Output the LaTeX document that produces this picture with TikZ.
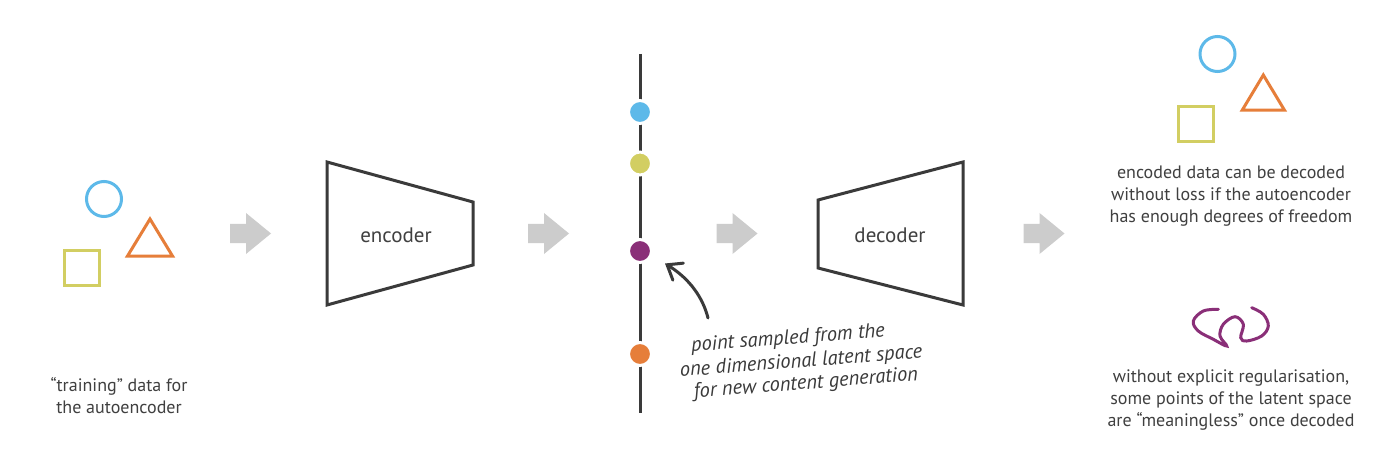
\documentclass[tikz,border=0pt]{standalone}
\usepackage{fontspec}
\setmainfont{PT Sans}
\usetikzlibrary{arrows.meta}
\definecolor{cblue}{HTML}{5DB9E9}
\definecolor{corange}{HTML}{E67E3A}
\definecolor{cyellow}{HTML}{D2CE62}
\definecolor{cpurple}{HTML}{8A2F78}
\definecolor{cgray}{HTML}{CCCCCC}
\definecolor{cdark}{HTML}{3A3A3A}
\definecolor{ctext}{HTML}{404040}
\tikzset{
  shapeline/.style={line width=3pt, line join=miter},
  circ/.style={shapeline, circle, inner sep=0pt, minimum size=35pt},
  sq/.style={shapeline, rectangle, inner sep=0pt, minimum size=35pt},
  box/.style={draw=cdark, line width=3pt, line join=miter},
  lbl/.style={text=ctext, font=\fontsize{21}{24}\selectfont},
  caption/.style={text=ctext, align=center, font=\fontsize{18}{22}\selectfont},
  hand/.style={text=cdark, inner sep=1pt, font=\fontsize{20.5}{22}\selectfont\itshape, rotate=4.5},
  dot/.style={circle, draw=white, line width=3pt, inner sep=0pt, minimum size=23pt},
  garrow/.style={fill=cgray},
}
\newcommand{\grayarrow}[1]{%
  \fill[garrow] (#1,224) -- (#1+16,224) -- (#1+16,213) -- (#1+41,233.5) -- (#1+16,254) -- (#1+16,243) -- (#1,243) -- cycle;}
\begin{document}
\begin{tikzpicture}[x=1pt,y=-1pt]
\useasboundingbox (0,0) rectangle (1400,465);
\fill[white] (0,0) rectangle (1400,465);

% input data
\node[circ, draw=cblue] (inC) at (104,199) {};
\draw[shapeline, draw=corange] (150,219) -- (172.5,256) -- (127.5,256) -- cycle;
\node[sq, draw=cyellow] (inS) at (82,267.5) {};
\node[caption] (inT) at (119,396) {“training” data for\\the autoencoder};

% arrows
\grayarrow{230}
\grayarrow{528}
\grayarrow{716.5}
\grayarrow{1023.5}

% encoder
\draw[box] (327,162) -- (473,202) -- (473,265) -- (327,305) -- cycle;
\node[lbl] (enc) at (396,235) {encoder};

% latent line
\coordinate (lt) at (640,54);
\coordinate (lb) at (640,413);
\draw[cdark, line width=3pt] (lt) -- (lb);
\node[dot, fill=cblue] (d1) at (640,112) {};
\node[dot, fill=cyellow] (d2) at (640,163.5) {};
\node[dot, fill=cpurple] (d3) at (640,251) {};
\node[dot, fill=corange] (d4) at (640,354) {};

% hand arrow and note
\coordinate (tail) at (708,318);
\coordinate (tip) at (665,263.5);
\draw[cdark, line width=3pt, line cap=round, -{Straight Barb[length=13pt, width=20pt, line cap=round]}]
  (tail) .. controls (703,298) and (690,279) .. (tip);
\node[hand] (note1) at (788,339) {point sampled from the};
\node[hand] (note2) at (801,362) {one dimensional latent space};
\node[hand] (note3) at (806,384) {for new content generation};

% decoder
\draw[box] (818,200) -- (963,162) -- (963,305) -- (818,268) -- cycle;
\node[lbl] (dec) at (890,235) {decoder};

% output data
\node[circ, draw=cblue] (outC) at (1217.5,54) {};
\draw[shapeline, draw=corange] (1263.3,75) -- (1284.5,110.2) -- (1242.2,110.2) -- cycle;
\node[sq, draw=cyellow] (outS) at (1196,124) {};
\node[caption] (outT) at (1231,196) {encoded data can be decoded\\without loss if the autoencoder\\has enough degrees of freedom};

% meaningless squiggle
\draw[cpurple, line width=3pt, line cap=round] plot[smooth, tension=0.6] coordinates {
  (1218.3,309.3) (1203.3,311) (1193.3,321) (1198.3,331) (1213.3,339.3) (1226.7,346)
  (1220,336) (1223.3,324.3) (1235,316.7) (1243.3,324.3) (1240.7,337.7) (1246.7,341)
  (1261.7,336) (1268.3,326) (1263.3,314.3) (1251.7,307.7)};
\node[caption] (badT) at (1231,400) {without explicit regularisation,\\some points of the latent space\\are “meaningless” once decoded};
\end{tikzpicture}
\end{document}
